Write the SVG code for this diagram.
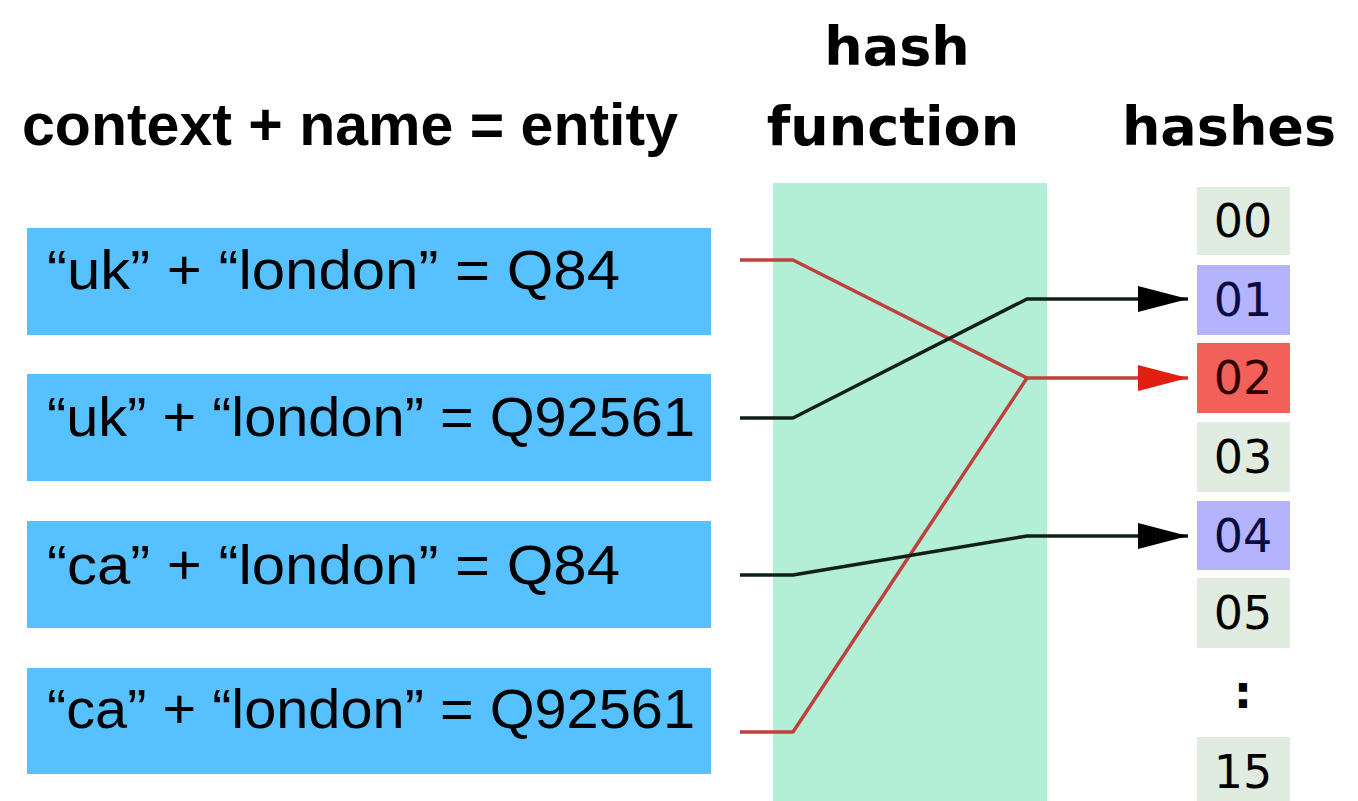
<svg xmlns="http://www.w3.org/2000/svg" width="1358" height="801" viewBox="0 0 1358 801">
<defs>
<style>
.hdr{font-family:"DejaVu Sans",sans-serif;font-weight:bold;font-size:54px;fill:#000;text-anchor:middle}
.ttl{font-family:"Liberation Sans",Arial,sans-serif;font-weight:bold;font-size:59px;fill:#000}
.ent{fill:#56c1fe}
.etx{font-family:"Liberation Sans",Arial,sans-serif;font-size:55px;fill:#000}
.hb{fill:#e1ece0}
.htx{font-family:"DejaVu Sans",sans-serif;font-size:46px;fill:#000;text-anchor:middle}
.blk{fill:none;stroke:#102018;stroke-width:3.5;stroke-linejoin:round}
.red{fill:none;stroke:#c0403c;stroke-width:3.5;stroke-linejoin:round}
</style>
<marker id="ab" markerUnits="userSpaceOnUse" markerWidth="52" markerHeight="30" refX="50" refY="14" orient="auto"><path d="M0,1 L50,14 L0,27 Z" fill="#000"/></marker>
<marker id="ar" markerUnits="userSpaceOnUse" markerWidth="52" markerHeight="30" refX="50" refY="14" orient="auto"><path d="M0,1 L50,14 L0,27 Z" fill="#e01f10"/></marker>
</defs>
<rect width="1358" height="801" fill="#fff"/>
<g id="hash-function">
<rect x="773" y="183" width="274" height="618" fill="#b3efd6"/>
<text class="hdr" x="897" y="65">hash</text>
<text class="hdr" x="893" y="145">function</text>
</g>
<text class="ttl" x="22" y="145" textLength="656" lengthAdjust="spacingAndGlyphs">context + name = entity</text>
<text class="hdr" x="1229" y="145">hashes</text>
<g id="entity1"><rect class="ent" x="27" y="228" width="684" height="107"/><text class="etx" x="47" y="289" textLength="573" lengthAdjust="spacingAndGlyphs">“uk” + “london” = Q84</text></g>
<g id="entity2"><rect class="ent" x="27" y="374" width="684" height="107"/><text class="etx" x="47" y="436" textLength="648" lengthAdjust="spacingAndGlyphs">“uk” + “london” = Q92561</text></g>
<g id="entity3"><rect class="ent" x="27" y="521" width="684" height="107"/><text class="etx" x="47" y="584" textLength="573" lengthAdjust="spacingAndGlyphs">“ca” + “london” = Q84</text></g>
<g id="entity4"><rect class="ent" x="27" y="668" width="684" height="106"/><text class="etx" x="47" y="728" textLength="648" lengthAdjust="spacingAndGlyphs">“ca” + “london” = Q92561</text></g>
<g id="h00"><rect class="hb" x="1197" y="187" width="93" height="68"/><text class="htx" x="1243" y="237">00</text></g>
<g id="h01"><rect x="1197" y="265" width="93" height="70" fill="#b3b3fe"/><text class="htx" x="1243" y="316" style="fill:#0a0a40">01</text></g>
<g id="h02"><rect x="1197" y="343" width="93" height="70" fill="#f2605a"/><text class="htx" x="1243" y="394" style="fill:#300000">02</text></g>
<g id="h03"><rect class="hb" x="1197" y="422" width="93" height="70"/><text class="htx" x="1243" y="473">03</text></g>
<g id="h04"><rect x="1197" y="501" width="93" height="69" fill="#b3b3fe"/><text class="htx" x="1243" y="552" style="fill:#0a0a40">04</text></g>
<g id="h05"><rect class="hb" x="1197" y="578" width="93" height="70"/><text class="htx" x="1243" y="629">05</text></g>
<g id="hdots"><text class="htx" x="1243" y="708" style="font-weight:bold">:</text></g>
<g id="h15"><rect class="hb" x="1197" y="737" width="93" height="70"/><text class="htx" x="1243" y="788">15</text></g>
<g id="connectors">
<polyline class="red" points="740,260 793,260 1027,378"/>
<polyline class="red" points="740,732 793,732 1027,378"/>
<polyline class="red" points="1027,378 1188,378" marker-end="url(#ar)"/>
<polyline class="blk" points="740,418 793,418 1027,299 1188,299" marker-end="url(#ab)"/>
<polyline class="blk" points="740,575 793,575 1027,536 1188,536" marker-end="url(#ab)"/>
</g>
</svg>
